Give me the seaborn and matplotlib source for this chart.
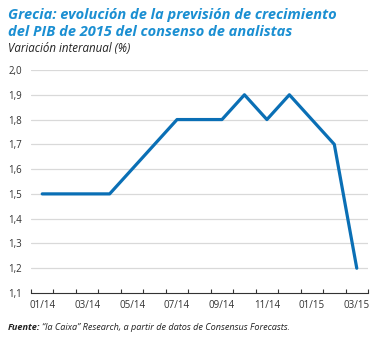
import matplotlib
matplotlib.use("Agg")
import matplotlib.pyplot as plt
import seaborn as sns
import pandas as pd
import numpy as np

months = ["01/14", "02/14", "03/14", "04/14", "05/14", "06/14", "07/14", "08/14",
          "09/14", "10/14", "11/14", "12/14", "01/15", "02/15", "03/15"]
values = [1.5, 1.5, 1.5, 1.5, 1.6, 1.7, 1.8, 1.8, 1.8, 1.9, 1.8, 1.9, 1.8, 1.7, 1.2]
y_ticks = [1.1, 1.2, 1.3, 1.4, 1.5, 1.6, 1.7, 1.8, 1.9, 2.0]
x_labels = ["01/14", "03/14", "05/14", "07/14", "09/14", "11/14", "01/15", "03/15"]

sns.set_theme(style="white")
plt.rcParams["font.family"] = ["Open Sans", "DejaVu Sans"]

df = pd.DataFrame({"idx": np.arange(len(months)), "mes": months, "valor": values})

fig = plt.figure(figsize=(3.8, 3.38), dpi=100)
ax = fig.add_axes([31/380, 1 - 293/338, (368-31)/380, (293-70)/338])

sns.lineplot(data=df, x="idx", y="valor", ax=ax, color="#0a6fb5", linewidth=2.3)

ax.set_xlim(-0.5, len(months) - 0.5)
ax.set_ylim(1.1, 2.0)
ax.set_yticks(y_ticks)
ax.set_yticklabels([f"{v:.1f}".replace(".", ",") for v in y_ticks], fontsize=7, color="#333333")
for v in y_ticks[1:]:
    ax.axhline(v, color="#d9d9d9", linewidth=0.9, zorder=0)

pos = [months.index(m) for m in x_labels]
ax.set_xticks(pos)
ax.set_xticklabels(x_labels, fontsize=7, color="#333333")
ax.set_xticks(np.arange(-0.5, len(months)), minor=True)
ax.tick_params(axis="x", which="major", length=0, pad=5)
ax.tick_params(axis="x", which="minor", length=3, direction="in", color="#333333", width=0.8, bottom=True)
ax.tick_params(axis="y", length=0, pad=6.5)

for s in ["top", "right", "left"]:
    ax.spines[s].set_visible(False)
ax.spines["bottom"].set_color("#333333")
ax.spines["bottom"].set_linewidth(0.8)
ax.set_xlabel("")
ax.set_ylabel("")

fig.text(8/380, 1 - 19/338, "Grecia: evolución de la previsión de crecimiento",
         fontsize=10.5, fontweight="bold", fontstyle="italic", color="#1b8fd2", va="baseline")
fig.text(8/380, 1 - 36/338, "del PIB de 2015 del consenso de analistas",
         fontsize=10.5, fontweight="bold", fontstyle="italic", color="#1b8fd2", va="baseline")
fig.text(8/380, 1 - 52/338, "Variación interanual (%)",
         fontsize=8.3, fontstyle="italic", color="#222222", va="baseline")
t1 = fig.text(8/380, 1 - 330/338, "Fuente:", fontsize=6.6, fontweight="bold",
              fontstyle="italic", color="#222222", va="baseline")
renderer = fig.canvas.get_renderer()
bb = t1.get_window_extent(renderer=renderer)
fig.text((bb.x1 + 1.5) / 380, 1 - 330/338,
         "\u201cla Caixa\u201d Research, a partir de datos de Consensus Forecasts.",
         fontsize=6.6, fontstyle="italic", color="#222222", va="baseline")

fig.savefig("out.png", dpi=100, facecolor="white")
